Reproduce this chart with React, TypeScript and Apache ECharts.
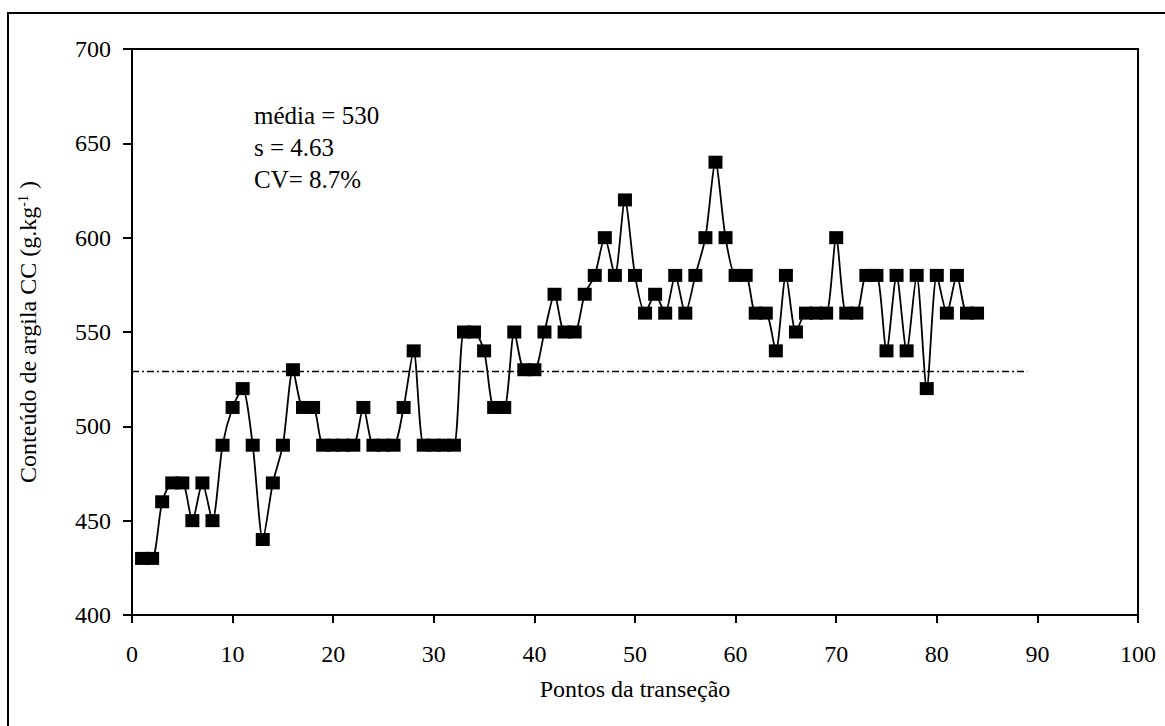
import React, { useEffect, useRef } from "react";
import * as echarts from "echarts";

const points: number[] = Array.from({ length: 84 }, (_, i) => i + 1);
const clay: number[] = [
  430, 430, 460, 470, 470, 450, 470, 450, 490, 510,
  520, 490, 440, 470, 490, 530, 510, 510, 490, 490,
  490, 490, 510, 490, 490, 490, 510, 540, 490, 490,
  490, 490, 550, 550, 540, 510, 510, 550, 530, 530,
  550, 570, 550, 550, 570, 580, 600, 580, 620, 580,
  560, 570, 560, 580, 560, 580, 600, 640, 600, 580,
  580, 560, 560, 540, 580, 550, 560, 560, 560, 600,
  560, 560, 580, 580, 540, 580, 540, 580, 520, 580,
  560, 580, 560, 560,
];
const meanLine: number[][] = [[0, 529], [89, 529]];
const statsText: string[] = ["média = 530", "s = 4.63", "CV= 8.7%"];
const xTitle = "Pontos da transeção";
const yTitle = "Conteúdo de argila CC (g.kg{sup|-1}{n| )}";

const FONT = "Liberation Serif";

export default function App() {
  const ref = useRef<HTMLDivElement>(null);
  useEffect(() => {
    document.body.style.margin = "0";
    document.body.style.overflow = "hidden";
    const chart = echarts.init(ref.current!, null, { renderer: "svg" });
    chart.setOption({
      animation: false,
      backgroundColor: "#ffffff",
      textStyle: { fontFamily: FONT, color: "#000" },
      grid: {
        left: 132,
        right: 27,
        top: 49,
        bottom: 111,
        show: true,
        borderColor: "#000",
        borderWidth: 2,
      },
      xAxis: {
        type: "value",
        min: 0,
        max: 100,
        interval: 10,
        name: xTitle,
        nameLocation: "middle",
        nameGap: 62,
        nameTextStyle: { fontFamily: FONT, fontSize: 24, color: "#000" },
        axisLine: { show: true, onZero: false, lineStyle: { color: "#000", width: 2 } },
        axisTick: { show: true, inside: false, length: 8, lineStyle: { color: "#000", width: 2 } },
        axisLabel: { fontFamily: FONT, fontSize: 24, color: "#000", margin: 27 },
        splitLine: { show: false },
      },
      yAxis: {
        type: "value",
        min: 400,
        max: 700,
        interval: 50,
        name: yTitle,
        nameLocation: "middle",
        nameGap: 92,
        nameRotate: 90,
        nameTextStyle: {
          fontFamily: FONT,
          fontSize: 24,
          color: "#000",
          rich: {
            sup: { fontFamily: FONT, fontSize: 14, color: "#000", verticalAlign: "top", padding: [0, 0, 10, 0] },
            n: { fontFamily: FONT, fontSize: 24, color: "#000" },
          },
        },
        axisLine: { show: true, lineStyle: { color: "#000", width: 2 } },
        axisTick: { show: true, inside: false, length: 9, lineStyle: { color: "#000", width: 2 } },
        axisLabel: { fontFamily: FONT, fontSize: 24, color: "#000", margin: 21 },
        splitLine: { show: false },
      },
      series: [
        {
          type: "line",
          data: meanLine,
          symbol: "none",
          silent: true,
          lineStyle: { color: "#000", width: 1.5, type: [7, 3, 2, 3] },
          z: 1,
        },
        {
          type: "line",
          data: points.map((p, i) => [p, clay[i]]),
          smooth: 0.25,
          symbol: "rect",
          symbolSize: [14, 13],
          itemStyle: { color: "#000", borderRadius: 1 },
          lineStyle: { color: "#000", width: 1.8 },
          z: 3,
        },
      ],
      graphic: [
        {
          type: "rect",
          shape: { x: 8, y: 13, width: 1200, height: 800 },
          style: { fill: "none", stroke: "#000", lineWidth: 2 },
          silent: true,
        },
        {
          type: "text",
          x: 254,
          y: 99,
          style: {
            text: statsText.join("\n"),
            fontFamily: FONT,
            fontSize: 25,
            lineHeight: 32,
            fill: "#000",
            verticalAlign: "top",
          },
        },
      ],
    });
    return () => chart.dispose();
  }, []);
  return <div ref={ref} style={{ width: 1165, height: 726 }} />;
}
